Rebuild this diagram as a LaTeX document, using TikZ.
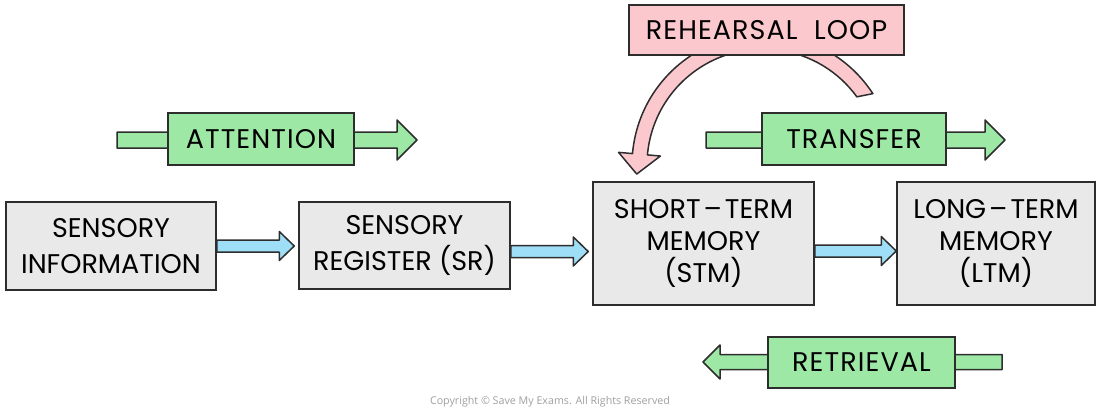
\documentclass[tikz,border=0pt]{standalone}
\usepackage{fontspec}
\setmainfont{Poppins}
\newfontfamily\widefont[LetterSpace=4]{Poppins}
\newfontfamily\copyfont{Open Sans}
\usetikzlibrary{calc}

\definecolor{boxgray}{RGB}{233,233,233}
\definecolor{memgreen}{RGB}{158,232,166}
\definecolor{looppink}{RGB}{250,200,205}
\definecolor{linkblue}{RGB}{158,222,246}
\definecolor{inkline}{RGB}{45,45,45}

\begin{document}
\begin{tikzpicture}[x=1pt, y=-1pt,
  block/.style args={#1/#2/#3}{to path={let \p1=(\tikztostart), \p2=(\tikztotarget), \n1={(\x2>\x1)?1:-1} in
    (\x1,\y1+#1) -- ({\x2-\n1*#3},\y1+#1) -- ({\x2-\n1*#3},\y1+#2) -- (\x2,\y1)
    -- ({\x2-\n1*#3},\y1-#2) -- ({\x2-\n1*#3},\y1-#1) -- (\x1,\y1-#1) -- cycle}},
  memorybox/.style={draw=inkline, fill=boxgray, line width=1.5pt, align=center, inner sep=0pt, font=\fontsize{27}{36}\selectfont},
  labelbox/.style={draw=inkline, fill=memgreen, line width=1.5pt, inner sep=0pt, minimum height=52pt, font=\widefont\fontsize{27}{30}\selectfont},
  greenarrow/.style={draw=inkline, fill=memgreen, line width=1.5pt, line join=round, block=8/20/20},
  bluearrow/.style={draw=inkline, fill=linkblue, line width=1.5pt, line join=round, block=6/14.5/15}]
  \useasboundingbox (0,0) rectangle (1100,413);

  % Rehearsal loop
  \coordinate (loopc) at (763,165);
  \begin{scope}[shift={(loopc)}, yscale=-1]
    \draw[draw=inkline, fill=looppink, line width=1.5pt, line join=round]
      (36:116) arc[start angle=36, end angle=175, radius=116] -- (175:103) -- (184.1:126.6)
      -- (175:145) -- (175:131) arc[start angle=175, end angle=33, radius=131] -- cycle;
  \end{scope}
  \node[draw=inkline, fill=looppink, line width=1.5pt, minimum width=275pt, minimum height=50pt, font=\widefont\fontsize{27}{30}\selectfont] (loop) at (766.5,30) {REHEARSAL\ \ LOOP};

  % Attention and transfer
  \coordinate (att-in) at (117,140);
  \coordinate (att-out) at (417,140);
  \draw[greenarrow] (att-in) to (att-out);
  \node[labelbox, minimum width=186pt] (att) at (261,139) {ATTENTION};

  \coordinate (tra-in) at (706,140);
  \coordinate (tra-out) at (1005,140);
  \draw[greenarrow] (tra-in) to (tra-out);
  \node[labelbox, minimum width=184pt] (tra) at (854,139) {TRANSFER};

  % Memory stores
  \node[memorybox, minimum width=210pt, minimum height=88pt] (si) at (111,246) {SENSORY\\INFORMATION};
  \node[memorybox, minimum width=211pt, minimum height=87pt] (sr) at (404.5,245.5) {SENSORY\\REGISTER (SR)};
  \node[memorybox, minimum width=221pt, minimum height=123pt, font=\fontsize{27}{32}\selectfont] (stm) at (703.5,243.5) {SHORT\hspace{3pt}–\hspace{3pt}TERM\\MEMORY\\(STM)};
  \node[memorybox, minimum width=198pt, minimum height=123pt, font=\fontsize{27}{32}\selectfont] (ltm) at (996,243.5) {LONG\hspace{3pt}–\hspace{3pt}TERM\\MEMORY\\(LTM)};

  \draw[bluearrow] (si.east) to ([xshift=-4pt]sr.west);
  \draw[bluearrow] ([yshift=-6pt]sr.east) to ([xshift=-4pt]stm.west);
  \draw[bluearrow] ([yshift=-7.5pt]stm.east) to (ltm.west);

  % Retrieval
  \coordinate (ret-in) at (1002,362);
  \coordinate (ret-out) at (703,362);
  \draw[greenarrow, block=7.5/17/17] (ret-in) to (ret-out);
  \node[labelbox, minimum width=187pt, minimum height=51pt] (ret) at (861.5,362.5) {RETRIEVAL};

  \node[text=gray!75, font=\copyfont\fontsize{10.7}{12}\selectfont] (copy) at (550,402) {Copyright © Save My Exams. All Rights Reserved};
\end{tikzpicture}
\end{document}
